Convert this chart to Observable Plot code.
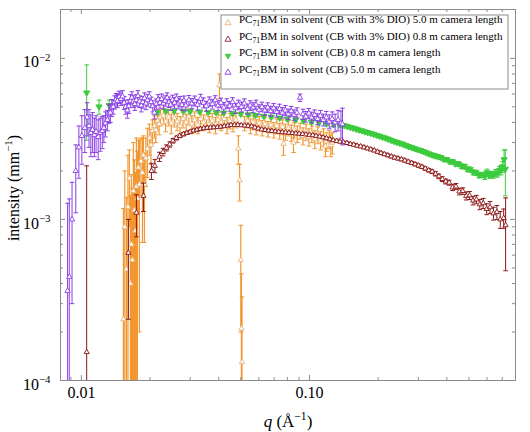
<!DOCTYPE html>
<html>
<head>
<meta charset="utf-8">
<script src="https://cdn.jsdelivr.net/npm/d3@7"></script>
<script src="https://cdn.jsdelivr.net/npm/@observablehq/plot@0.6"></script>
<style>
  html, body { margin: 0; padding: 0; background: #fff; }
  #chart svg text { white-space: pre; }
</style>
</head>
<body>
<div id="chart"></div>
<script>
// SAXS intensity of PC71BM solutions; intensities in units of 1e-3 mm^-1.

// CB, 5.0 m camera length
const qCB5 = [
  0.00870, 0.00885, 0.00910, 0.00945, 0.00975, 0.01005, 0.01035, 0.01060, 0.01080, 0.01100,
  0.01120, 0.01140, 0.01160, 0.01185, 0.01210, 0.01235, 0.01255, 0.01275, 0.01300, 0.01320,
  0.01340, 0.01360, 0.01380, 0.01400, 0.01420, 0.01440, 0.01465, 0.01490, 0.01515, 0.01540,
  0.01565, 0.01590, 0.01615, 0.01640, 0.01665, 0.01690, 0.01715, 0.01740, 0.01770, 0.01800,
  0.01830, 0.01860, 0.01890, 0.01920, 0.01950, 0.01985, 0.02020, 0.02055, 0.02090, 0.02130,
  0.02170, 0.02210, 0.02250, 0.02290, 0.02330, 0.02375, 0.02420, 0.02465, 0.02510, 0.02560,
  0.02610, 0.02660, 0.02710, 0.02760, 0.02815, 0.0287, 0.0296, 0.0305, 0.0314, 0.0323,
  0.0333, 0.0343, 0.0353, 0.0364, 0.0375, 0.0386, 0.0397, 0.0409, 0.0421, 0.0434,
  0.0447, 0.0460, 0.0474, 0.0488, 0.0503, 0.0518, 0.0534, 0.0550, 0.0566, 0.0583,
  0.0601, 0.0619, 0.0637, 0.0656, 0.0676, 0.0696, 0.0717, 0.0739, 0.0761, 0.0784,
  0.0807, 0.0831, 0.0856, 0.0882, 0.0909, 0.0936, 0.0964, 0.0993, 0.1022, 0.1053,
  0.1085, 0.1117, 0.1151, 0.1185, 0.1221, 0.1258, 0.1295, 0.1334, 0.1374, 0.1395
];
const iCB5 = [
  0.36, 0.44, 1.00, 2.00, 2.80, 3.30, 3.70, 4.30, 3.80, 3.45,
  3.60, 3.35, 3.50, 3.25, 3.45, 3.55, 3.70, 3.95, 4.15, 4.55,
  4.60, 4.95, 5.00, 5.35, 5.55, 5.45, 5.75, 5.60, 5.80, 5.30,
  5.00, 4.75, 5.05, 5.45, 5.70, 5.40, 5.20, 5.50, 5.85, 5.40,
  5.10, 5.35, 5.65, 5.25, 5.50, 5.80, 5.35, 5.05, 4.60, 5.20,
  5.55, 5.30, 5.60, 5.25, 5.45, 5.70, 5.35, 5.15, 5.50, 5.30,
  5.60, 5.25, 5.40, 5.15, 5.45, 5.10, 5.50, 5.25, 5.45, 5.15,
  5.60, 5.30, 5.05, 5.40, 5.20, 5.50, 5.10, 5.30, 4.95, 5.25,
  5.05, 5.35, 4.90, 5.15, 5.00, 5.25, 4.85, 5.10, 4.95, 5.15,
  4.80, 5.00, 4.75, 4.95, 4.70, 4.90, 4.65, 4.85, 4.60, 4.75,
  4.50, 4.70, 4.45, 4.60, 5.70, 4.50, 4.35, 4.55, 4.30, 4.45,
  4.20, 4.40, 4.15, 4.30, 4.05, 4.20, 4.00, 4.15, 3.95, 3.90
];
const eCB5 = [
  0.90, 0.90, 0.70, 0.90, 1.00, 1.10, 1.10, 1.00, 1.00, 1.00,
  1.00, 0.90, 0.90, 0.90, 0.80, 0.80, 0.70, 0.70, 0.60, 0.60,
  0.60, 0.60, 0.50, 0.50, 0.50, 0.50, 0.50, 0.50, 0.50, 0.50,
  0.50, 0.50, 0.50, 0.50, 0.50, 0.45, 0.45, 0.45, 0.45, 0.45,
  0.45, 0.45, 0.45, 0.45, 0.45, 0.40, 0.40, 0.40, 0.40, 0.40,
  0.40, 0.40, 0.40, 0.40, 0.40, 0.40, 0.40, 0.40, 0.40, 0.40,
  0.40, 0.40, 0.40, 0.40, 0.38, 0.38, 0.38, 0.38, 0.38, 0.38,
  0.38, 0.38, 0.36, 0.36, 0.36, 0.36, 0.36, 0.36, 0.36, 0.36,
  0.35, 0.35, 0.35, 0.35, 0.35, 0.35, 0.35, 0.35, 0.35, 0.35,
  0.34, 0.34, 0.34, 0.34, 0.34, 0.34, 0.34, 0.34, 0.34, 0.34,
  0.33, 0.33, 0.33, 0.33, 0.30, 0.33, 0.33, 0.33, 0.33, 0.33,
  0.33, 0.35, 0.35, 0.38, 0.40, 0.45, 0.50, 0.60, 0.75, 1.00
];

// CB, 0.8 m camera length
const qCB08 = [
  0.01055, 0.01195, 0.01325, 0.0215, 0.0235, 0.0255, 0.0280, 0.0300, 0.0330, 0.0360,
  0.0390, 0.0420, 0.0460, 0.0500, 0.0540, 0.0580, 0.0630, 0.0680, 0.0740, 0.0800,
  0.0870, 0.0940, 0.1020, 0.1100, 0.1190, 0.1280, 0.1360, 0.1420, 0.1463, 0.1507,
  0.1552, 0.1599, 0.1647, 0.1696, 0.1747, 0.1799, 0.1853, 0.1909, 0.1966, 0.2025,
  0.2086, 0.2149, 0.2213, 0.2279, 0.2348, 0.2418, 0.2491, 0.2565, 0.2642, 0.2722,
  0.2803, 0.2887, 0.2974, 0.3063, 0.3155, 0.3250, 0.3347, 0.3448, 0.3551, 0.3658,
  0.3767, 0.3880, 0.3997, 0.4117, 0.4240, 0.4367, 0.4498, 0.4633, 0.4772, 0.4915,
  0.5063, 0.5215, 0.5371, 0.5532, 0.5698, 0.5869, 0.6000, 0.6130, 0.6260, 0.6400,
  0.6540, 0.6680, 0.6800, 0.6920, 0.7030, 0.7130, 0.7220
];
const iCB08 = [
  6.10, 5.00, 5.10, 4.60, 4.70, 4.70, 4.70, 4.68, 4.65, 4.62,
  4.60, 4.58, 4.55, 4.50, 4.46, 4.42, 4.37, 4.32, 4.26, 4.20,
  4.14, 4.08, 4.02, 3.97, 3.92, 3.88, 3.85, 3.82, 3.78, 3.73,
  3.69, 3.64, 3.59, 3.55, 3.50, 3.46, 3.42, 3.38, 3.33, 3.29,
  3.24, 3.20, 3.15, 3.10, 3.05, 3.01, 2.97, 2.93, 2.88, 2.83,
  2.79, 2.75, 2.71, 2.68, 2.64, 2.59, 2.55, 2.51, 2.48, 2.45,
  2.42, 2.36, 2.35, 2.28, 2.28, 2.21, 2.21, 2.14, 2.13, 2.05,
  2.04, 1.96, 1.95, 1.88, 1.89, 1.85, 1.95, 1.88, 1.90, 1.89,
  1.94, 1.93, 2.01, 2.03, 2.12, 2.35, 2.05
];
const eCB08 = [
  3.00, 0.50, 0.40, 0.10, 0.10, 0.10, 0.10, 0.10, 0.10, 0.10,
  0.10, 0.10, 0.10, 0.10, 0.10, 0.10, 0.10, 0.10, 0.10, 0.10,
  0.10, 0.10, 0.10, 0.10, 0.10, 0.10, 0.10, 0.09, 0.09, 0.09,
  0.09, 0.09, 0.09, 0.08, 0.08, 0.08, 0.08, 0.08, 0.08, 0.08,
  0.08, 0.08, 0.08, 0.08, 0.08, 0.08, 0.08, 0.08, 0.08, 0.08,
  0.07, 0.07, 0.07, 0.07, 0.07, 0.07, 0.07, 0.07, 0.07, 0.07,
  0.07, 0.07, 0.07, 0.07, 0.07, 0.07, 0.07, 0.07, 0.07, 0.07,
  0.07, 0.07, 0.07, 0.07, 0.07, 0.08, 0.10, 0.08, 0.08, 0.09,
  0.10, 0.10, 0.12, 0.14, 0.16, 0.35, 0.65
];

// CB with 3% DIO, 0.8 m camera length
const qDIO08 = [
  0.01055, 0.01607, 0.01743, 0.01871, 0.02028, 0.02100, 0.0220, 0.0228, 0.0236, 0.0244,
  0.0252, 0.0261, 0.0270, 0.0280, 0.0290, 0.0300, 0.0310, 0.0321, 0.0332, 0.0344,
  0.0356, 0.0368, 0.0381, 0.0395, 0.0408, 0.0423, 0.0438, 0.0453, 0.0469, 0.0485,
  0.0502, 0.0520, 0.0538, 0.0557, 0.0576, 0.0596, 0.0617, 0.0639, 0.0661, 0.0684,
  0.0708, 0.0733, 0.0759, 0.0785, 0.0813, 0.0841, 0.0871, 0.0901, 0.0933, 0.0965,
  0.0999, 0.1034, 0.1070, 0.1108, 0.1146, 0.1187, 0.1228, 0.1271, 0.1316, 0.1362,
  0.1409, 0.1459, 0.1510, 0.1563, 0.1617, 0.1674, 0.1732, 0.1793, 0.1856, 0.1921,
  0.1988, 0.2058, 0.2130, 0.2204, 0.2281, 0.2361, 0.2444, 0.2530, 0.2618, 0.2710,
  0.2805, 0.2903, 0.3004, 0.3110, 0.3218, 0.3331, 0.3448, 0.3568, 0.3693, 0.3822,
  0.3956, 0.4095, 0.4238, 0.4386, 0.4540, 0.4699, 0.4863, 0.5033, 0.5209, 0.5392,
  0.5580, 0.5776, 0.5978, 0.6187, 0.6404, 0.6628, 0.6860, 0.7100, 0.7240
];
const iDIO08 = [
  0.15, 0.62, 1.10, 1.40, 2.00, 2.15, 2.45, 2.62, 2.78, 2.92,
  3.08, 3.20, 3.30, 3.38, 3.44, 3.50, 3.56, 3.60, 3.64, 3.68,
  3.70, 3.72, 3.73, 3.74, 3.76, 3.79, 3.82, 3.85, 3.86, 3.86,
  3.84, 3.83, 3.81, 3.78, 3.72, 3.67, 3.62, 3.59, 3.56, 3.54,
  3.52, 3.50, 3.48, 3.47, 3.45, 3.44, 3.42, 3.41, 3.39, 3.37,
  3.35, 3.33, 3.30, 3.27, 3.23, 3.19, 3.14, 3.10, 3.07, 3.04,
  3.01, 2.98, 2.94, 2.91, 2.87, 2.84, 2.80, 2.76, 2.72, 2.68,
  2.63, 2.58, 2.54, 2.50, 2.46, 2.42, 2.39, 2.36, 2.32, 2.28,
  2.24, 2.20, 2.16, 2.12, 2.07, 2.02, 1.98, 1.92, 1.85, 1.78,
  1.72, 1.69, 1.58, 1.60, 1.49, 1.50, 1.40, 1.41, 1.31, 1.33,
  1.24, 1.26, 1.16, 1.19, 1.09, 1.11, 1.00, 1.02, 0.92
];
const eDIO08 = [
  2.00, 0.38, 0.32, 0.28, 0.23, 0.20, 0.16, 0.14, 0.12, 0.11,
  0.10, 0.09, 0.08, 0.08, 0.07, 0.07, 0.07, 0.06, 0.06, 0.06,
  0.06, 0.06, 0.06, 0.06, 0.06, 0.06, 0.06, 0.06, 0.06, 0.06,
  0.06, 0.06, 0.06, 0.06, 0.06, 0.06, 0.06, 0.06, 0.06, 0.06,
  0.05, 0.05, 0.05, 0.05, 0.05, 0.05, 0.05, 0.05, 0.05, 0.05,
  0.05, 0.05, 0.05, 0.05, 0.05, 0.05, 0.05, 0.05, 0.05, 0.05,
  0.05, 0.05, 0.05, 0.05, 0.05, 0.05, 0.05, 0.05, 0.05, 0.05,
  0.05, 0.05, 0.05, 0.05, 0.05, 0.05, 0.05, 0.05, 0.05, 0.05,
  0.05, 0.05, 0.05, 0.05, 0.05, 0.05, 0.05, 0.06, 0.06, 0.06,
  0.06, 0.06, 0.07, 0.07, 0.07, 0.07, 0.08, 0.08, 0.08, 0.08,
  0.09, 0.09, 0.09, 0.10, 0.10, 0.11, 0.12, 0.14, 0.44
];

// CB with 3% DIO, 5.0 m camera length
const qDIO5 = [
  0.01528, 0.01550, 0.01575, 0.01600, 0.01623, 0.01640, 0.01657, 0.01674, 0.01690, 0.01708,
  0.01725, 0.01742, 0.01760, 0.01778, 0.01796, 0.01824, 0.01852, 0.01870, 0.01889, 0.01917,
  0.01947, 0.01987, 0.02018, 0.02048, 0.02090, 0.02120, 0.02155, 0.02190, 0.02220, 0.02290,
  0.02340, 0.0241, 0.0248, 0.0256, 0.0263, 0.0271, 0.0279, 0.0288, 0.0296, 0.0305,
  0.0314, 0.0324, 0.0333, 0.0343, 0.0354, 0.0364, 0.0375, 0.0387, 0.0398, 0.0403,
  0.0410, 0.0423, 0.0435, 0.0448, 0.0462, 0.0476, 0.0488, 0.0494, 0.0500, 0.0503,
  0.0506, 0.0519, 0.0535, 0.0551, 0.0567, 0.0584, 0.0602, 0.0620, 0.0638, 0.0658,
  0.0677, 0.0698, 0.0719, 0.0740, 0.0762, 0.0769, 0.0785, 0.0809, 0.0833, 0.0851,
  0.0858, 0.0884, 0.0910, 0.0937, 0.0966, 0.0994, 0.1024, 0.1055, 0.1087, 0.1119,
  0.1153, 0.1175, 0.1187, 0.1223, 0.1240, 0.1260
];
const iDIO5 = [
  0.24, 0.90, 0.49, 1.20, 1.80, 0.40, 0.70, 0.56, 1.50, 1.14,
  0.85, 1.60, 1.35, 2.10, 1.65, 2.30, 1.95, 2.50, 1.65, 2.40,
  2.75, 3.20, 2.90, 3.55, 3.80, 3.60, 4.10, 3.90, 4.30, 4.40,
  4.05, 4.30, 3.95, 4.25, 4.05, 3.80, 4.20, 4.00, 4.35, 3.90,
  4.15, 3.85, 4.20, 4.00, 4.25, 3.90, 4.10, 3.85, 4.15, 6.80,
  4.00, 4.20, 3.85, 4.10, 3.95, 4.15, 2.75, 1.75, 0.56, 0.21,
  0.13, 3.95, 4.10, 3.80, 4.00, 3.75, 3.95, 3.70, 3.90, 3.65,
  3.85, 3.60, 3.80, 3.55, 3.75, 2.95, 3.50, 3.70, 3.45, 3.00,
  3.60, 3.40, 3.55, 3.30, 3.50, 3.25, 3.40, 3.15, 3.35, 3.10,
  3.25, 2.85, 3.05, 3.15, 2.90, 3.00
];
const eDIO5 = [
  0.93, 1.10, 0.88, 1.30, 0.90, 1.00, 1.20, 1.00, 1.50, 1.20,
  1.10, 1.60, 1.30, 1.00, 1.45, 0.90, 1.23, 0.80, 0.93, 0.80,
  0.93, 0.70, 0.70, 0.60, 0.60, 0.60, 0.50, 0.55, 0.50, 0.50,
  0.55, 0.50, 0.55, 0.50, 0.50, 0.55, 0.50, 0.50, 0.50, 0.50,
  0.50, 0.45, 0.45, 0.45, 0.45, 0.45, 0.45, 0.45, 0.45, 1.20,
  0.45, 0.45, 0.45, 0.45, 0.45, 0.45, 0.55, 0.45, 0.36, 0.25,
  0.20, 0.40, 0.40, 0.40, 0.40, 0.40, 0.40, 0.40, 0.40, 0.40,
  0.40, 0.40, 0.40, 0.40, 0.40, 0.45, 0.40, 0.40, 0.40, 0.40,
  0.40, 0.40, 0.40, 0.40, 0.40, 0.40, 0.40, 0.40, 0.40, 0.40,
  0.40, 0.40, 0.40, 0.40, 0.45, 0.45
];

// Axis ticks and labels
const xMajor = [0.01, 0.1];
const xMajorLabels = ["0.01", "0.10"];
const xMinor = [0.009, 0.02, 0.03, 0.04, 0.05, 0.06, 0.07, 0.08, 0.09, 0.2, 0.3, 0.4, 0.5, 0.6, 0.7];
const yMajor = [1e-4, 1e-3, 1e-2];
const yMajorLabels = ["10^{−4}", "10^{−3}", "10^{−2}"];
const yMinor = [2e-4, 3e-4, 4e-4, 5e-4, 6e-4, 7e-4, 8e-4, 9e-4, 2e-3, 3e-3, 4e-3, 5e-3, 6e-3, 7e-3, 8e-3, 9e-3];
const xLabel = "*q* (Å^{−1})";
const yLabel = "intensity (mm^{−1})";
const seriesLabels = [
  "PC_{71}BM in solvent (CB with 3% DIO) 5.0 m camera length",
  "PC_{71}BM in solvent (CB with 3% DIO) 0.8 m camera length",
  "PC_{71}BM in solvent (CB) 0.8 m camera length",
  "PC_{71}BM in solvent (CB) 5.0 m camera length"
];

// Colours
const cOrange = "#f2962f", cOrangeMark = "#e8b47c";
const cMaroon = "#8b1414";
const cGreen = "#3ccb3c";
const cPurple = "#8a3ee6";
const cAxis = "#8c8c8c";

const W = 530, H = 432, mL = 60, mR = 15, mT = 9, mB = 52;
const plotW = W - mL - mR, plotH = H - mT - mB;

// Symbols: downward triangle and a flat error-bar cap
const triDown = {
  draw(ctx, size) {
    const r = Math.sqrt(size / Math.PI);
    ctx.moveTo(-r * 1.2, -r * 0.75);
    ctx.lineTo(r * 1.2, -r * 0.75);
    ctx.lineTo(0, r * 1.3);
    ctx.closePath();
  }
};
const cap = {
  draw(ctx, size) {
    const r = Math.sqrt(size / Math.PI);
    ctx.moveTo(-r, 0);
    ctx.lineTo(r, 0);
  }
};

const toRows = (q, I, e) => q.map((d, i) => ({
  q: d,
  I: I[i] * 1e-3,
  lo: Math.max(I[i] - e[i], 1e-4) * 1e-3,
  hi: (I[i] + e[i]) * 1e-3
}));

function seriesMarks(rows, barColor, markStroke, markFill, symbol, r, barWidth = 1) {
  return [
    Plot.ruleX(rows, {x: "q", y1: "lo", y2: "hi", stroke: barColor, strokeWidth: barWidth, clip: true}),
    Plot.dot(rows, {x: "q", y: "hi", symbol: cap, r: 2.3, stroke: barColor, fill: "none", strokeWidth: 1, clip: true}),
    Plot.dot(rows, {x: "q", y: "lo", symbol: cap, r: 2.3, stroke: barColor, fill: "none", strokeWidth: 1, clip: true}),
    Plot.dot(rows, {x: "q", y: "I", symbol, r, stroke: markStroke, fill: markFill, strokeWidth: 0.9, clip: true})
  ];
}

const plot = Plot.plot({
  width: W, height: H,
  marginLeft: mL, marginRight: mR, marginTop: mT, marginBottom: mB,
  style: {fontFamily: "'Liberation Serif', 'Times New Roman', serif", fontSize: "16px", color: "#000", background: "#fff", overflow: "visible"},
  x: {type: "log", domain: [0.0081, 0.80]},
  y: {type: "log", domain: [1e-4, 0.0201]},
  marks: [
    ...seriesMarks(toRows(qDIO5, iDIO5, eDIO5), cOrange, cOrangeMark, "white", "triangle", 2, 1.2),
    ...seriesMarks(toRows(qDIO08, iDIO08, eDIO08), cMaroon, cMaroon, "white", "triangle", 1.9),
    ...seriesMarks(toRows(qCB08, iCB08, eCB08), cGreen, cGreen, cGreen, triDown, 2.6),
    ...seriesMarks(toRows(qCB5, iCB5, eCB5), cPurple, cPurple, "white", "triangle", 2),
    Plot.frame({stroke: cAxis}),
    // inward ticks on all four sides
    Plot.tickX(xMinor, {x: d => d, insetTop: plotH - 3, stroke: cAxis}),
    Plot.tickX(xMajor, {x: d => d, insetTop: plotH - 5, stroke: cAxis}),
    Plot.tickX(xMinor, {x: d => d, insetBottom: plotH - 3, stroke: cAxis}),
    Plot.tickX(xMajor, {x: d => d, insetBottom: plotH - 5, stroke: cAxis}),
    Plot.tickY(yMinor, {y: d => d, insetRight: plotW - 3, stroke: cAxis}),
    Plot.tickY(yMajor, {y: d => d, insetRight: plotW - 5, stroke: cAxis}),
    Plot.tickY(yMinor, {y: d => d, insetLeft: plotW - 3, stroke: cAxis}),
    Plot.tickY(yMajor, {y: d => d, insetLeft: plotW - 5, stroke: cAxis}),
    Plot.axisX(xMajor, {tickSize: 0, tickPadding: 6, label: null, fontSize: 16,
      tickFormat: d => xMajorLabels[xMajor.indexOf(d)]}),
    Plot.axisY(yMajor, {tickSize: 0, tickPadding: 10, label: null, fontSize: 16, dy: 4,
      tickFormat: d => yMajorLabels[yMajor.indexOf(d)]}),
    Plot.text([xLabel], {text: d => d, frameAnchor: "bottom", textAnchor: "middle", lineAnchor: "middle", dy: 41, fontSize: 17}),
    Plot.text([yLabel], {text: d => d, frameAnchor: "left", textAnchor: "middle", lineAnchor: "middle", rotate: -90, dx: -47, dy: -7, fontSize: 16})
  ]
});

document.getElementById("chart").appendChild(plot);

// Legend box inside the plot area
const legend = d3.select(plot).append("g")
  .attr("font-family", "'Liberation Serif', 'Times New Roman', serif")
  .attr("font-size", 11)
  .attr("text-anchor", "start");
legend.append("rect")
  .attr("x", 221).attr("y", 15).attr("width", 287).attr("height", 74)
  .attr("fill", "white").attr("stroke", cAxis);
const legendStyles = [
  {stroke: cOrangeMark, fill: "white", sym: d3.symbolTriangle},
  {stroke: "#8b2a3c", fill: "white", sym: d3.symbolTriangle},
  {stroke: cGreen, fill: cGreen, sym: triDown},
  {stroke: cPurple, fill: "white", sym: d3.symbolTriangle}
];
seriesLabels.forEach((label, i) => {
  const cy = 23 + i * 16.5;
  const st = legendStyles[i];
  legend.append("path")
    .attr("transform", `translate(228,${cy})`)
    .attr("d", d3.symbol(st.sym, 16)())
    .attr("fill", st.fill).attr("stroke", st.stroke).attr("stroke-width", 0.9);
  legend.append("text")
    .attr("x", 239).attr("y", cy).attr("dy", "0.35em")
    .attr("text-anchor", "start")
    .text(label);
});

// Turn ^{...}, _{...} and *...* markup into tspans
function richify(el) {
  const s = el.textContent;
  if (!/\^\{|_\{|\*/.test(s)) return;
  const fs = parseFloat(getComputedStyle(el).fontSize) || 16;
  el.textContent = "";
  el.style.whiteSpace = "pre";
  let shift = 0;
  for (const part of s.split(/(\^\{[^}]*\}|_\{[^}]*\}|\*[^*]+\*)/)) {
    if (!part) continue;
    const t = document.createElementNS("http://www.w3.org/2000/svg", "tspan");
    let target = 0, txt = part;
    if (part.startsWith("^{")) {
      target = -0.42 * fs; txt = part.slice(2, -1); t.setAttribute("font-size", 0.68 * fs);
    } else if (part.startsWith("_{")) {
      target = 0.28 * fs; txt = part.slice(2, -1); t.setAttribute("font-size", 0.7 * fs);
    } else if (part.startsWith("*")) {
      txt = part.slice(1, -1); t.setAttribute("font-style", "italic");
    }
    t.setAttribute("dy", target - shift);
    shift = target;
    t.textContent = txt;
    el.appendChild(t);
  }
}
d3.select(plot).selectAll("text").each(function() { richify(this); });
</script>
</body>
</html>
